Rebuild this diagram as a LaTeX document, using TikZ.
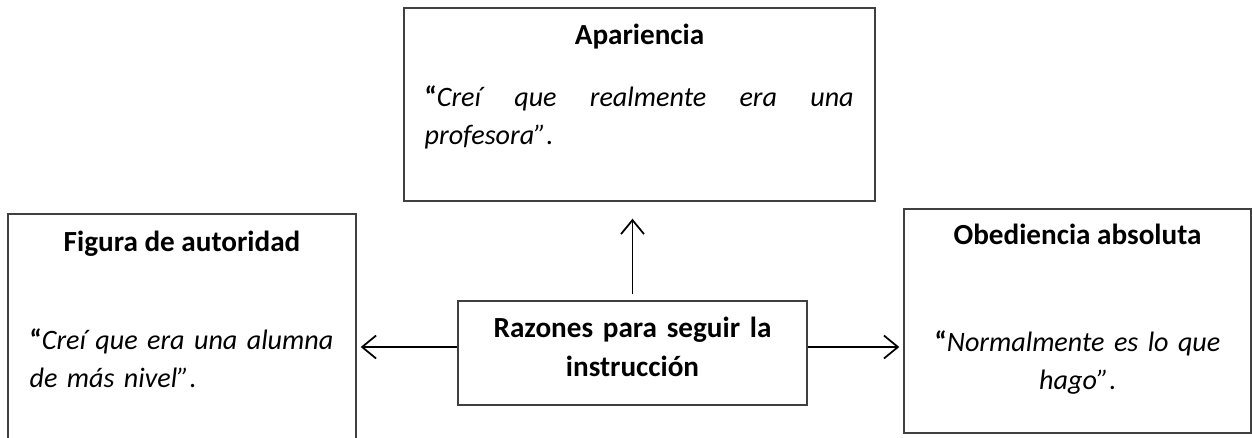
\documentclass[tikz,border=0pt]{standalone}
\usepackage{fontspec}
\setmainfont{Carlito}
\usetikzlibrary{arrows.meta,positioning}

\newcommand{\tam}{\fontsize{16}{21.8}\selectfont}
\tikzset{
  caja/.style={draw=black!75, line width=0.8pt, rectangle, inner sep=0pt},
  titulo/.style={font=\fontsize{16.6}{22.4}\selectfont\bfseries, anchor=base, inner sep=0pt},
  cuerpo/.style={font=\tam, anchor=base west, inner sep=0pt, text width=#1},
  flecha/.style={-{Straight Barb[length=0.28cm,width=0.46cm,line width=1pt]}, line width=1pt}
}
\newcommand{\frase}[1]{\textbf{“}\textit{#1”}.}

\begin{document}
\begin{tikzpicture}
 \useasboundingbox (0,0) rectangle (25.04,-8.74);

 % cajas
 \draw (12.79,-2.09) node[caja, minimum width=9.42cm, minimum height=3.86cm] (apariencia) {};
 \draw (12.65,-7.06) node[caja, minimum width=6.98cm, minimum height=2.08cm] (razones) {};
 \draw (3.64,-6.66) node[caja, minimum width=6.96cm, minimum height=4.76cm] (figura) {};
 \draw (21.55,-6.42) node[caja, minimum width=6.94cm, minimum height=4.48cm] (obediencia) {};

 % textos
 \draw ([yshift=-0.74cm]apariencia.north) node[titulo] (aparienciaT) {Apariencia};
 \draw ([xshift=0.42cm,yshift=-1.98cm]apariencia.north west) node[cuerpo=8.58cm, align=justify] (aparienciaC)
   {\frase{Creí que realmente era una\linebreak profesora}};

 \draw ([yshift=-0.74cm]razones.north) node[titulo, text width=6.4cm, align=center] (razonesT)
   {Razones para seguir la\\ instrucción};

 \draw ([yshift=-0.76cm]figura.north) node[titulo] (figuraT) {Figura de autoridad};
 \draw ([xshift=0.44cm,yshift=-2.72cm]figura.north west) node[cuerpo=6.4cm, align=left] (figuraC)
   {\frase{Creí que era una alumna\\ de más nivel}};

 \draw ([yshift=-0.72cm]obediencia.north) node[titulo] (obedienciaT) {Obediencia absoluta};
 \draw ([yshift=-2.86cm]obediencia.north) node[cuerpo=6.6cm, anchor=base, align=center] (obedienciaC)
   {\frase{Normalmente es lo que\\ hago}};

 % flechas
 \draw[flecha, shorten <=0.12cm, shorten >=0.34cm] (razones.north) -- (razones.north |- apariencia.south);
 \draw[flecha, shorten >=0.08cm] ([yshift=0.12cm]razones.west) -- ([yshift=0.12cm]razones.west -| figura.east);
 \draw[flecha, shorten >=0.08cm] ([yshift=0.12cm]razones.east) -- ([yshift=0.12cm]razones.east -| obediencia.west);
\end{tikzpicture}
\end{document}
